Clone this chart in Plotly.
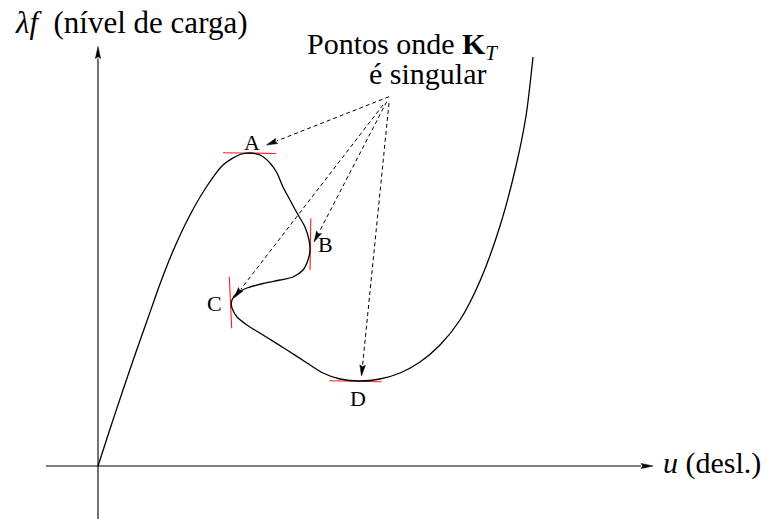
import numpy as np
import plotly.graph_objects as go

# Equilibrium path: displacement u vs. load level λf (drawing units, origin at axes crossing)
path_u = [0, 12, 25, 38, 50, 62, 75, 92, 109, 125, 142, 152, 162, 172, 179, 185, 192, 199,
          207, 211, 212, 210, 205, 195, 182, 165, 149, 139, 134, 133.3, 134, 139, 149, 165,
          189, 209, 225, 242, 262, 282, 302, 322, 342, 362, 382, 402, 418, 428, 435]
path_lf = [0, 37, 76, 114, 148, 182, 215, 251, 280, 301, 311.5, 313, 311, 303, 293, 279, 266, 253,
           239, 226, 216, 206, 196, 189, 186, 182.5, 178, 173, 166, 162, 158, 149, 141, 131,
           116, 103, 93, 87, 85, 87, 93, 104, 121, 146, 185, 240, 300, 350, 409]

# Limit points where K_T is singular, with the tangent segment drawn at each
point_names = ["A", "B", "C", "D"]
tangent_u = [[125, 178], [212.8, 212], [131.3, 133.7], [231.5, 283.7]]
tangent_lf = [[313.3, 312.5], [247.7, 196], [189.3, 137.7], [85.3, 84.3]]
label_u = [154.3, 227.3, 116.3, 260.3]
label_lf = [323.3, 221.8, 162.7, 67.7]

# Dashed pointers from the caption to each singular point
pointer_start_u = [291, 288.7, 285, 291]
pointer_start_lf = [369.3, 364.3, 361, 363]
pointer_tip_u = [168.5, 216, 136, 263.5]
pointer_tip_lf = [321, 224, 168, 90]

# Axes extents
u_axis = [-52, 555]
lf_axis = [-53, 419.5]

X_RANGE = [-98, 668]
Y_RANGE = [-53, 466]
SERIF = "Liberation Serif, Times New Roman, Times, serif"


def arrow_head(tip, tail, length, half_w):
    tip = np.asarray(tip, float)
    tail = np.asarray(tail, float)
    d = tip - tail
    d /= np.hypot(*d)
    n = np.array([-d[1], d[0]])
    base = tip - d * length
    pts = [tip, base + n * half_w, tip - d * length * 0.85, base - n * half_w, tip]
    xs = [p[0] for p in pts]
    ys = [p[1] for p in pts]
    return xs, ys, base


fig = go.Figure()

# axes with arrowheads
hx, hy, base = arrow_head((u_axis[1], 0), (u_axis[0], 0), 12, 2.6)
fig.add_trace(go.Scatter(x=[u_axis[0], base[0]], y=[0, 0], mode="lines",
                         line=dict(color="black", width=1.1), hoverinfo="skip"))
fig.add_trace(go.Scatter(x=hx, y=hy, mode="lines", fill="toself", fillcolor="black",
                         line=dict(color="black", width=0.5), hoverinfo="skip"))
hx, hy, base = arrow_head((0, lf_axis[1]), (0, lf_axis[0]), 12, 2.6)
fig.add_trace(go.Scatter(x=[0, 0], y=[lf_axis[0], base[1]], mode="lines",
                         line=dict(color="black", width=1.1), hoverinfo="skip"))
fig.add_trace(go.Scatter(x=hx, y=hy, mode="lines", fill="toself", fillcolor="black",
                         line=dict(color="black", width=0.5), hoverinfo="skip"))

# tangents at limit points
for tu, tl in zip(tangent_u, tangent_lf):
    fig.add_trace(go.Scatter(x=tu, y=tl, mode="lines",
                             line=dict(color="#ff1a1a", width=1.1), hoverinfo="skip"))

# equilibrium path
fig.add_trace(go.Scatter(x=path_u, y=path_lf, mode="lines",
                         line=dict(color="black", width=1.3, shape="spline", smoothing=0.8),
                         hoverinfo="skip"))

# dashed pointers
for su, sl, tu, tl in zip(pointer_start_u, pointer_start_lf, pointer_tip_u, pointer_tip_lf):
    hx, hy, base = arrow_head((tu, tl), (su, sl), 11, 2.8)
    fig.add_trace(go.Scatter(x=[su, base[0]], y=[sl, base[1]], mode="lines",
                             line=dict(color="black", width=1, dash="4px,3px"),
                             hoverinfo="skip"))
    fig.add_trace(go.Scatter(x=hx, y=hy, mode="lines", fill="toself", fillcolor="black",
                             line=dict(color="black", width=0.5), hoverinfo="skip"))

annotations = []
for name, lu, ll in zip(point_names, label_u, label_lf):
    annotations.append(dict(x=lu, y=ll, text=name, showarrow=False, xanchor="center",
                            yanchor="middle", font=dict(family=SERIF, size=22, color="black")))

annotations += [
    dict(x=-85, y=444, text="<i>λf</i>  (nível de carga)", showarrow=False,
         xanchor="left", yanchor="middle", font=dict(family=SERIF, size=31, color="black")),
    dict(x=207, y=420, text="Pontos onde <b>K</b><sub><i>T</i></sub>", showarrow=False,
         xanchor="left", yanchor="middle", font=dict(family=SERIF, size=30, color="black")),
    dict(x=269, y=393, text="é singular", showarrow=False,
         xanchor="left", yanchor="middle", font=dict(family=SERIF, size=30, color="black")),
    dict(x=563, y=3, text="<i>u</i> (desl.)", showarrow=False,
         xanchor="left", yanchor="middle", font=dict(family=SERIF, size=30, color="black")),
]

fig.update_layout(
    width=766, height=519,
    margin=dict(l=0, r=0, t=0, b=0),
    paper_bgcolor="white", plot_bgcolor="white",
    showlegend=False,
    xaxis=dict(range=X_RANGE, visible=False, fixedrange=True),
    yaxis=dict(range=Y_RANGE, visible=False, fixedrange=True),
    annotations=annotations,
)

fig.write_html("out.html")
